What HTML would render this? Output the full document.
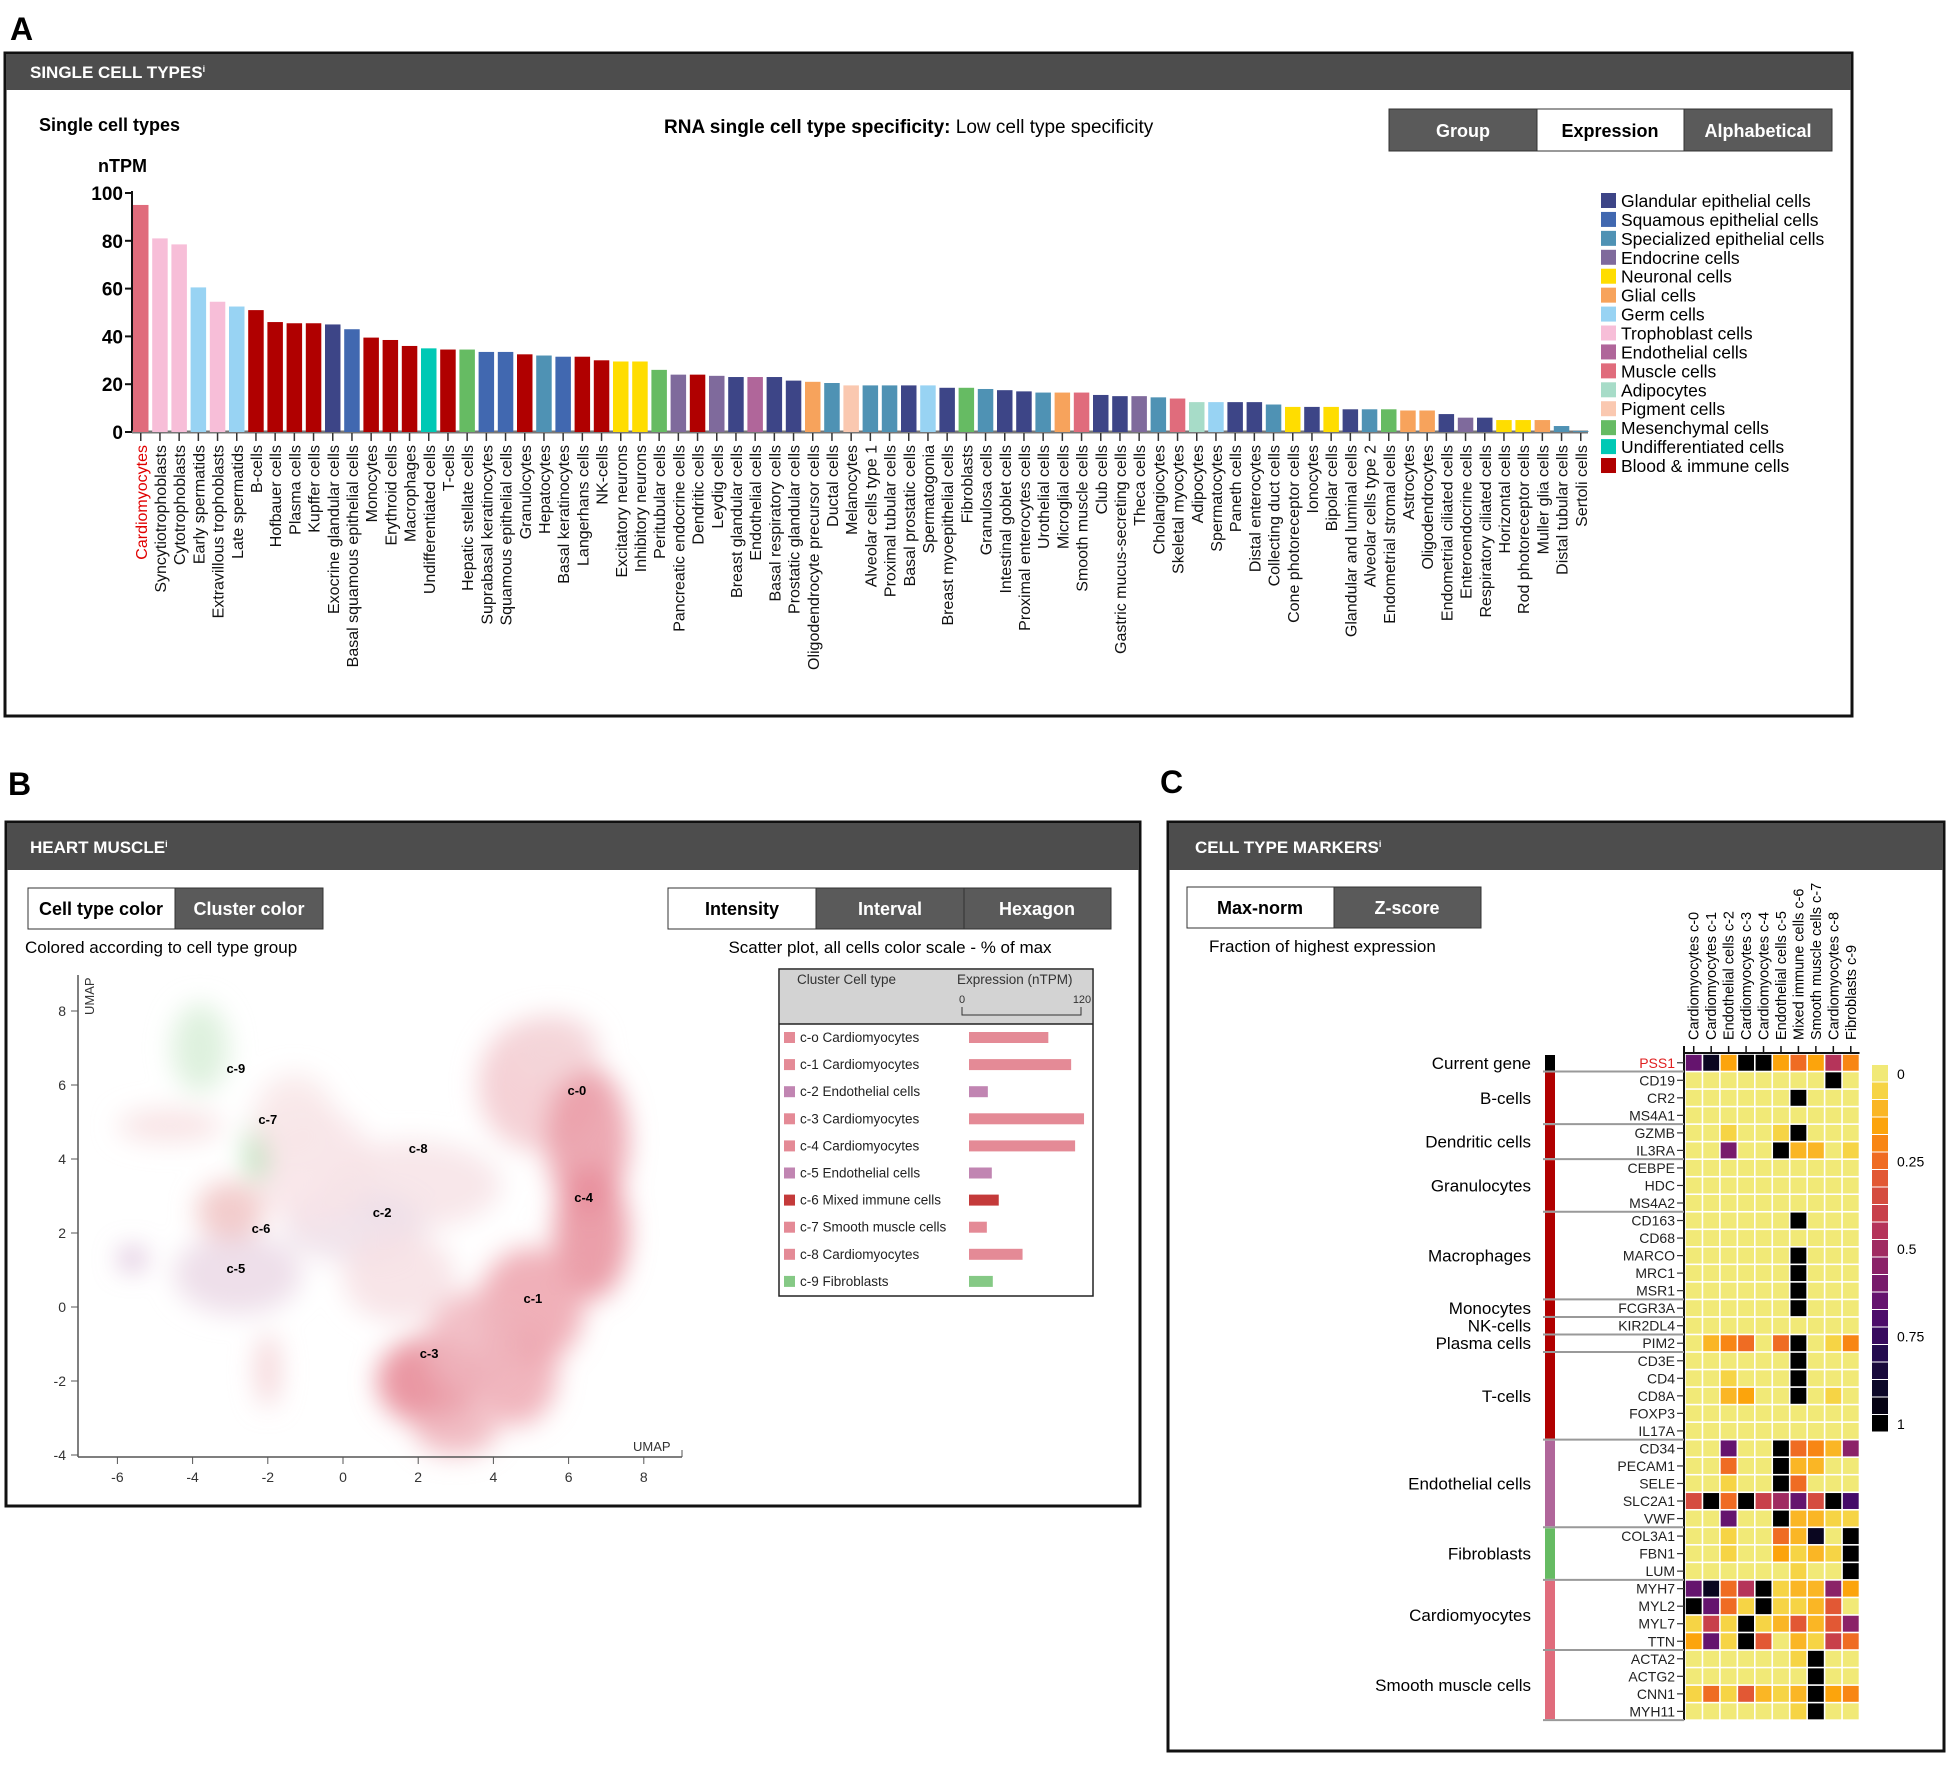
<!DOCTYPE html>
<html><head><meta charset="utf-8">
<style>
html,body{margin:0;padding:0;background:#fff;}
body{width:1950px;height:1766px;overflow:hidden;font-family:"Liberation Sans",Arial,sans-serif;}
svg text{font-family:"Liberation Sans",Arial,sans-serif;}
</style></head>
<body>
<svg id="root" width="1950" height="1766" viewBox="0 0 1950 1766" xmlns="http://www.w3.org/2000/svg">
<defs>
<filter id="blur" x="-50%" y="-50%" width="200%" height="200%"><feGaussianBlur stdDeviation="13"/></filter>
</defs>
<!-- Panel A -->
<text x="10" y="40" font-size="32" font-weight="bold">A</text>
<rect x="5" y="53" width="1847" height="663" fill="#fff" stroke="#111" stroke-width="3"/>
<rect x="6" y="54" width="1845" height="36" fill="#4d4d4d"/>
<text x="30" y="78" font-size="17" font-weight="bold" fill="#fff">SINGLE CELL TYPES<tspan font-size="9" dy="-6">i</tspan></text>
<text x="39" y="131" font-size="18" font-weight="bold">Single cell types</text>
<text x="664" y="133" font-size="19"><tspan font-weight="bold">RNA single cell type specificity:</tspan> Low cell type specificity</text>
<g>
<rect x="1389" y="109" width="148" height="42" fill="#5a5a5a" stroke="#333"/>
<text x="1463" y="137" font-size="18" font-weight="bold" fill="#fff" text-anchor="middle">Group</text>
<rect x="1537" y="109" width="147" height="42" fill="#fff" stroke="#333"/>
<text x="1610" y="137" font-size="18" font-weight="bold" fill="#000" text-anchor="middle">Expression</text>
<rect x="1684" y="109" width="148" height="42" fill="#5a5a5a" stroke="#333"/>
<text x="1758" y="137" font-size="18" font-weight="bold" fill="#fff" text-anchor="middle">Alphabetical</text>
</g>
<text x="98" y="172" font-size="18" font-weight="bold">nTPM</text>
<g id="barchart"></g>
<g id="legend"></g>

<!-- Panel B -->
<text x="8" y="795" font-size="32" font-weight="bold">B</text>
<rect x="6" y="822" width="1134" height="684" fill="#fff" stroke="#111" stroke-width="3"/>
<rect x="7" y="823" width="1132" height="47" fill="#4d4d4d"/>
<text x="30" y="853" font-size="17" font-weight="bold" fill="#fff">HEART MUSCLE<tspan font-size="9" dy="-6">i</tspan></text>
<rect x="28" y="888" width="147" height="41" fill="#fff" stroke="#333"/>
<text x="101" y="915" font-size="18" font-weight="bold" text-anchor="middle">Cell type color</text>
<rect x="175" y="888" width="148" height="41" fill="#5a5a5a" stroke="#333"/>
<text x="249" y="915" font-size="18" font-weight="bold" fill="#fff" text-anchor="middle">Cluster color</text>
<text x="25" y="953" font-size="17">Colored according to cell type group</text>
<rect x="668" y="888" width="148" height="41" fill="#fff" stroke="#333"/>
<text x="742" y="915" font-size="18" font-weight="bold" text-anchor="middle">Intensity</text>
<rect x="816" y="888" width="148" height="41" fill="#5a5a5a" stroke="#333"/>
<text x="890" y="915" font-size="18" font-weight="bold" fill="#fff" text-anchor="middle">Interval</text>
<rect x="964" y="888" width="147" height="41" fill="#5a5a5a" stroke="#333"/>
<text x="1037" y="915" font-size="18" font-weight="bold" fill="#fff" text-anchor="middle">Hexagon</text>
<text x="890" y="953" font-size="17" text-anchor="middle">Scatter plot, all cells color scale - % of max</text>
<g id="umap"></g>
<g id="ctable"></g>

<!-- Panel C -->
<text x="1160" y="793" font-size="32" font-weight="bold">C</text>
<rect x="1168" y="822" width="776" height="929" fill="#fff" stroke="#111" stroke-width="3"/>
<rect x="1169" y="823" width="774" height="47" fill="#4d4d4d"/>
<text x="1195" y="853" font-size="17" font-weight="bold" fill="#fff">CELL TYPE MARKERS<tspan font-size="9" dy="-6">i</tspan></text>
<rect x="1187" y="887" width="147" height="41" fill="#fff" stroke="#333"/>
<text x="1260" y="914" font-size="18" font-weight="bold" text-anchor="middle">Max-norm</text>
<rect x="1334" y="887" width="147" height="41" fill="#5a5a5a" stroke="#333"/>
<text x="1407" y="914" font-size="18" font-weight="bold" fill="#fff" text-anchor="middle">Z-score</text>
<text x="1209" y="952" font-size="17">Fraction of highest expression</text>
<g id="heatmap"></g>
</svg>
<script>
// ---------- Bar chart data ----------
const cellTypes = ["Cardiomyocytes","Syncytiotrophoblasts","Cytotrophoblasts","Early spermatids","Extravillous trophoblasts","Late spermatids","B-cells","Hofbauer cells","Plasma cells","Kupffer cells","Exocrine glandular cells","Basal squamous epithelial cells","Monocytes","Erythroid cells","Macrophages","Undifferentiated cells","T-cells","Hepatic stellate cells","Suprabasal keratinocytes","Squamous epithelial cells","Granulocytes","Hepatocytes","Basal keratinocytes","Langerhans cells","NK-cells","Excitatory neurons","Inhibitory neurons","Peritubular cells","Pancreatic endocrine cells","Dendritic cells","Leydig cells","Breast glandular cells","Endothelial cells","Basal respiratory cells","Prostatic glandular cells","Oligodendrocyte precursor cells","Ductal cells","Melanocytes","Alveolar cells type 1","Proximal tubular cells","Basal prostatic cells","Spermatogonia","Breast myoepithelial cells","Fibroblasts","Granulosa cells","Intestinal goblet cells","Proximal enterocytes cells","Urothelial cells","Microglial cells","Smooth muscle cells","Club cells","Gastric mucus-secreting cells","Theca cells","Cholangiocytes","Skeletal myocytes","Adipocytes","Spermatocytes","Paneth cells","Distal enterocytes","Collecting duct cells","Cone photoreceptor cells","Ionocytes","Bipolar cells","Glandular and luminal cells","Alveolar cells type 2","Endometrial stromal cells","Astrocytes","Oligodendrocytes","Endometrial ciliated cells","Enteroendocrine cells","Respiratory ciliated cells","Horizontal cells","Rod photoreceptor cells","Muller glia cells","Distal tubular cells","Sertoli cells"];
const nTPM = [95,81,78.5,60.5,54.5,52.5,51,46,45.5,45.5,45,43,39.5,38.5,36,35,34.5,34.5,33.5,33.5,32.5,32,31.5,31.5,30,29.5,29.5,26,24,24,23.5,23,23,23,21.5,21,20.5,19.5,19.5,19.5,19.5,19.5,18.5,18.5,18,17.5,17,16.5,16.5,16.5,15.5,15,15,14.5,14,12.5,12.5,12.5,12.5,11.5,10.5,10.5,10.5,9.5,9.5,9.5,9,9,7.5,6,6,5,5,5,2.5,0.4];
const cellGroups = ["mus","tro","tro","grm","tro","grm","bld","bld","bld","bld","gla","squ","bld","bld","bld","und","bld","mes","squ","squ","bld","spe","squ","bld","bld","neu","neu","mes","end","bld","end","gla","endo","gla","gla","gli","spe","pig","spe","spe","gla","grm","gla","mes","spe","gla","gla","spe","gli","mus","gla","gla","end","spe","mus","adi","grm","gla","gla","spe","neu","gla","neu","gla","spe","mes","gli","gli","gla","end","gla","neu","neu","gli","spe","spe"];
const yTicks = [0,20,40,60,80,100];
const legendKeys = ["gla","squ","spe","end","neu","gli","grm","tro","endo","mus","adi","pig","mes","und","bld"];
const legendLabels = ["Glandular epithelial cells","Squamous epithelial cells","Specialized epithelial cells","Endocrine cells","Neuronal cells","Glial cells","Germ cells","Trophoblast cells","Endothelial cells","Muscle cells","Adipocytes","Pigment cells","Mesenchymal cells","Undifferentiated cells","Blood & immune cells"];
const groupColor = {gla:"#3d4587",squ:"#4168b0",spe:"#4f92b4",end:"#7f6a9c",neu:"#ffdd00",gli:"#f7a35c",grm:"#98d3f3",tro:"#f7bed8",endo:"#b0669a",mus:"#e06c7c",adi:"#a7dcc8",pig:"#fac8b0",mes:"#66bb63",und:"#00c9b5",bld:"#b00000"};

const NS="http://www.w3.org/2000/svg";
function mk(tag, attrs, parent, text){const e=document.createElementNS(NS,tag);for(const k in attrs)e.setAttribute(k,attrs[k]);if(text!==undefined)e.textContent=text;parent.appendChild(e);return e;}

const bY0=432, bY100=193, bX0=132, bPitch=19.2, bW=15.5;
const yScale = v => bY0 - (bY0-bY100)*v/100;
const xBand = i => bX0 + 1 + i*bPitch;
const bc=document.getElementById('barchart');
let ax=mk('line',{x1:bX0,y1:bY100-2,x2:bX0,y2:bY0,stroke:'#111','stroke-width':2},bc);


let xa=mk('line',{x1:bX0,y1:bY0,x2:1588,y2:bY0,stroke:'#777','stroke-width':3},bc);


yTicks.forEach(t=>{
  let tk=mk('line',{x1:bX0-7,x2:bX0,y1:yScale(t),y2:yScale(t),stroke:'#111','stroke-width':2},bc);
  
  
  let tl=mk('text',{x:bX0-9,y:yScale(t)+7,'font-size':19,'font-weight':'bold','text-anchor':'end'},bc,String(t));
  
  
});
cellTypes.forEach((name,i)=>{
  const x=xBand(i), v=nTPM[i];
  let r=mk('rect',{x:x,y:yScale(v),width:bW,height:bY0-yScale(v),fill:groupColor[cellGroups[i]]},bc);
  
  
  const cx=x+bW/2;
  let tk=mk('line',{x1:cx,x2:cx,y1:bY0+1,y2:bY0+9,stroke:'#333','stroke-width':1.5},bc);
  
  
  let lb=mk('text',{x:0,y:0,'font-size':16,'text-anchor':'end',fill:i===0?'#e00000':'#111',transform:`translate(${cx+6},${bY0+13}) rotate(-90)`},bc,name);
  
  
});
const lg=document.getElementById('legend');
legendKeys.forEach((k,i)=>{
  const y=201+i*18.93;
  let s=mk('rect',{x:1601,y:y-8,width:15,height:15,fill:groupColor[k]},lg);
  
  
  let t=mk('text',{x:1621,y:y+6,'font-size':17.5},lg,legendLabels[i]);
  
  
});

// ---------- UMAP ----------
const umapXTicks=[-6,-4,-2,0,2,4,6,8];
const umapYTicks=[-4,-2,0,2,4,6,8];
const blobX=[5.2,6.5,6.6,5.0,4.6,2.3,3.4,1.8,0.3,-0.8,-2.8,-3.0,-4.6,-3.8,-2.3,-2.0,-1.3,3.0,-5.6,1.5,5.6];
const blobY=[6.0,4.5,2.0,0.0,-1.8,-2.0,-1.0,3.3,2.2,3.8,0.9,2.6,4.9,7.0,4.2,-1.7,5.0,-3.3,1.3,0.8,7.0];
const blobRX=[1.6,1.1,1.0,1.4,1.1,1.4,1.2,2.4,1.9,1.6,1.7,0.9,1.4,0.75,0.3,0.3,1.1,1.1,0.35,1.5,1.2];
const blobRY=[1.8,2.0,1.8,1.6,1.4,1.2,1.4,1.2,1.0,1.6,1.1,0.8,0.45,1.2,0.8,1.0,1.3,0.7,0.3,1.2,0.9];
const blobCol=["#f3c9cf","#ea9aa6","#e78e9b","#eda2ad","#eea9b3","#e68593","#f0b5bd","#f7e3e6","#eedfe9","#f8e4e7","#ebd9e6","#f0c3c3","#f7dfe2","#d8efd8","#a9dba9","#f2ccd0","#f8e6e8","#efb1ba","#cfa8cc","#f7e1e4","#f5d6db"];
const clusterNames=["c-0","c-1","c-2","c-3","c-4","c-5","c-6","c-7","c-8","c-9"];
const clusterX=[6.22,5.05,1.04,2.29,6.4,-2.85,-2.18,-2.0,2.0,-2.85];
const clusterY=[5.86,0.24,2.57,-1.24,2.97,1.05,2.14,5.08,4.3,6.46];
const ux=v=>343+v*37.6, uy=v=>1307-v*37.0;
const um=document.getElementById('umap');
const bl=mk('g',{filter:'url(#blur)'},um);


blobX.forEach((x,i)=>{
  let e=mk('ellipse',{cx:ux(x),cy:uy(blobY[i]),rx:blobRX[i]*37.6,ry:blobRY[i]*37,fill:blobCol[i],opacity:0.85},bl);
  
  
});
let uxa=mk('line',{x1:78,y1:1457,x2:682,y2:1457,stroke:'#555','stroke-width':1.5},um);


let uya=mk('line',{x1:78,y1:975,x2:78,y2:1457,stroke:'#555','stroke-width':1.5},um);


mk('line',{x1:682,y1:1450,x2:682,y2:1457,stroke:'#555'},um);
umapXTicks.forEach(t=>{
  mk('line',{x1:ux(t),x2:ux(t),y1:1457,y2:1464,stroke:'#555'},um);
  let l=mk('text',{x:ux(t),y:1482,'font-size':14,'text-anchor':'middle',fill:'#333'},um,String(t));
  
  
});
umapYTicks.forEach(t=>{
  mk('line',{x1:71,x2:78,y1:uy(t),y2:uy(t),stroke:'#555'},um);
  let l=mk('text',{x:66,y:uy(t)+5,'font-size':14,'text-anchor':'end',fill:'#333'},um,String(t));
  
  
});
let ut=mk('text',{x:0,y:0,'font-size':13,fill:'#333',transform:'translate(94,1015) rotate(-90)'},um,'UMAP');


let ut2=mk('text',{x:633,y:1451,'font-size':13,fill:'#333'},um,'UMAP');


clusterNames.forEach((n,i)=>{
  let l=mk('text',{x:ux(clusterX[i]),y:uy(clusterY[i])+5,'font-size':13,'font-weight':'bold','text-anchor':'middle'},um,n);
  
  
});

// ---------- Cluster table ----------
const tableLabels=["c-o Cardiomyocytes","c-1 Cardiomyocytes","c-2 Endothelial cells","c-3 Cardiomyocytes","c-4 Cardiomyocytes","c-5 Endothelial cells","c-6 Mixed immune cells","c-7 Smooth muscle cells","c-8 Cardiomyocytes","c-9 Fibroblasts"];
const tableValues=[80,103,19,116,107,23,30,18,54,24];
const tableColors=["#e48a96","#e48a96","#c185b2","#e48a96","#e48a96","#c185b2","#c43a3a","#e48a96","#e48a96","#85c985"];
const ct=document.getElementById('ctable');
mk('rect',{x:779,y:969,width:314,height:327,fill:'#fff',stroke:'#222','stroke-width':1.5},ct);
mk('rect',{x:780,y:970,width:312,height:54,fill:'#d3d3d3'},ct);
mk('line',{x1:779,x2:1093,y1:1024,y2:1024,stroke:'#222','stroke-width':1.5},ct);
mk('text',{x:797,y:984,'font-size':13.5,fill:'#333'},ct,'Cluster Cell type');
mk('text',{x:957,y:984,'font-size':13.5,fill:'#333'},ct,'Expression (nTPM)');
mk('text',{x:962,y:1003,'font-size':11,fill:'#333','text-anchor':'middle'},ct,'0');
mk('text',{x:1082,y:1003,'font-size':11,fill:'#333','text-anchor':'middle'},ct,'120');
mk('path',{d:'M962,1007 V1015 H1081 V1007',stroke:'#333',fill:'none'},ct);
const tx=v=>969+v*(1081-962)/120;
tableLabels.forEach((l,i)=>{
  const y=1037+i*27.1;
  mk('rect',{x:784,y:y-5,width:11,height:11,fill:tableColors[i]},ct);
  let t=mk('text',{x:800,y:y+5,'font-size':13.5,fill:'#222'},ct,l);
  
  
  let b=mk('rect',{x:969,y:y-5,width:tx(tableValues[i])-969,height:11,fill:tableColors[i]},ct);
  
  
});

// ---------- Heatmap ----------
const hmColumns=["Cardiomyocytes c-0","Cardiomyocytes c-1","Endothelial cells c-2","Cardiomyocytes c-3","Cardiomyocytes c-4","Endothelial cells c-5","Mixed immune cells c-6","Smooth muscle cells c-7","Cardiomyocytes c-8","Fibroblasts c-9"];
const hmGenes=["PSS1","CD19","CR2","MS4A1","GZMB","IL3RA","CEBPE","HDC","MS4A2","CD163","CD68","MARCO","MRC1","MSR1","FCGR3A","KIR2DL4","PIM2","CD3E","CD4","CD8A","FOXP3","IL17A","CD34","PECAM1","SELE","SLC2A1","VWF","COL3A1","FBN1","LUM","MYH7","MYL2","MYL7","TTN","ACTA2","ACTG2","CNN1","MYH11"];
const hmValues=[
[0.65,0.92,0.15,1,1,0.15,0.25,0.15,0.45,0.2],
[0,0,0,0,0,0,0,0,1,0],
[0,0,0,0,0,0,1,0,0,0],
[0,0,0,0,0,0,0,0,0,0],
[0,0,0.05,0,0,0.05,1,0,0,0],
[0,0,0.6,0,0,1,0.1,0.1,0,0.05],
[0,0,0,0,0,0,0,0,0,0],
[0,0,0,0,0,0,0,0,0,0],
[0,0,0,0,0,0,0,0,0,0],
[0,0,0,0,0,0,1,0,0,0],
[0,0,0,0,0,0,0,0,0,0],
[0,0,0,0,0,0,1,0,0,0],
[0,0,0,0,0,0,1,0,0,0],
[0,0,0,0,0,0,1,0,0,0],
[0,0,0,0,0,0,1,0,0,0],
[0,0,0,0,0,0,0,0,0,0],
[0,0.1,0.2,0.25,0,0.25,1,0,0.05,0.2],
[0,0,0,0,0,0,1,0,0,0],
[0,0,0.05,0,0,0,1,0,0,0],
[0,0,0.1,0.15,0,0,1,0,0.05,0],
[0,0,0,0,0,0,0,0,0,0],
[0,0,0,0,0,0,0,0,0,0],
[0,0,0.65,0,0,1,0.25,0.2,0.1,0.55],
[0,0,0.25,0,0,1,0.1,0.1,0,0],
[0,0,0.05,0,0,1,0.25,0,0,0],
[0.35,1,0.25,1,0.4,0.5,0.65,0.35,1,0.72],
[0,0,0.65,0,0,1,0.1,0.1,0.05,0.05],
[0,0,0.05,0,0,0.25,0.1,0.92,0,1],
[0,0,0.05,0,0,0.15,0.05,0.1,0.05,1],
[0,0,0,0,0,0,0.05,0,0,1],
[0.65,0.92,0.25,0.45,1,0.05,0.1,0.1,0.55,0.15],
[1,0.65,0.25,0.05,1,0.05,0.05,0.1,0.3,0],
[0.05,0.4,0.05,1,0.05,0.1,0.3,0.1,0.3,0.55],
[0.15,0.65,0.05,1,0.3,0,0.1,0.05,0.4,0.25],
[0,0,0,0,0,0,0.05,1,0,0],
[0,0,0,0,0,0,0,1,0,0],
[0.05,0.25,0.05,0.3,0.1,0.05,0.1,1,0.15,0.2],
[0,0,0,0,0,0,0.05,1,0,0]];
const hmGroupNames=["Current gene","B-cells","Dendritic cells","Granulocytes","Macrophages","Monocytes","NK-cells","Plasma cells","T-cells","Endothelial cells","Fibroblasts","Cardiomyocytes","Smooth muscle cells"];
const hmGroupStart=[0,1,4,6,9,14,15,16,17,22,27,30,34];
const hmGroupEnd=[0,3,5,8,13,14,15,16,21,26,29,33,37];
const hmGroupColor=["#000","#b00000","#b00000","#b00000","#b00000","#b00000","#b00000","#b00000","#b00000","#b0669a","#66bb63","#e06c7c","#e06c7c"];
const colorbarTicks=[0,0.25,0.5,0.75,1];
const stops=[[0,"#f1e977"],[0.05,"#f6d445"],[0.1,"#fab625"],[0.15,"#fca40c"],[0.2,"#f88614"],[0.25,"#ef6c23"],[0.3,"#e25834"],[0.4,"#c8404a"],[0.45,"#b5345a"],[0.55,"#8b2268"],[0.65,"#65146e"],[0.72,"#440a68"],[0.8,"#240b4f"],[0.9,"#0d0828"],[1,"#000000"]];
function hx(c){return [1,3,5].map(i=>parseInt(c.substr(i,2),16));}
function cmap(v){for(let i=1;i<stops.length;i++){if(v<=stops[i][0]+1e-9){const[a,ca]=stops[i-1],[b,cb]=stops[i];const t=(v-a)/(b-a);const A=hx(ca),B=hx(cb);return 'rgb('+A.map((x,k)=>Math.round(x+(B[k]-x)*t)).join(',')+')';}}return '#000';}
const hX0=1685, hCw=17.45, hY0=1054, hRh=17.53;
const colX=j=>hX0+j*hCw, rowY=i=>hY0+i*hRh;
const hm=document.getElementById('heatmap');
mk('rect',{x:hX0,y:hY0,width:hCw*10,height:hRh*38,fill:'#fff'},hm);
hmValues.forEach((row,i)=>row.forEach((v,j)=>{
  let c=mk('rect',{x:colX(j)+0.8,y:rowY(i)+0.8,width:hCw-1.6,height:hRh-1.6,fill:cmap(v)},hm);
  
  
}));
mk('line',{x1:hX0-1,x2:hX0+hCw*10,y1:hY0-1,y2:hY0-1,stroke:'#111','stroke-width':2},hm);
mk('line',{x1:hX0-1,x2:hX0-1,y1:hY0-8,y2:hY0+hRh*38,stroke:'#111','stroke-width':2},hm);
hmColumns.forEach((n,j)=>{
  const cx=colX(j)+hCw/2;
  mk('line',{x1:cx,x2:cx,y1:hY0-8,y2:hY0-1,stroke:'#111','stroke-width':1.5},hm);
  let t=mk('text',{x:0,y:0,'font-size':14.5,transform:`translate(${cx+5},${hY0-14}) rotate(-90)`},hm,n);
  
  
});
hmGenes.forEach((g,i)=>{
  const cy=rowY(i)+hRh/2;
  mk('line',{x1:hX0-8,x2:hX0-1,y1:cy,y2:cy,stroke:'#333','stroke-width':1.2},hm);
  let t=mk('text',{x:hX0-10,y:cy+5,'font-size':14,'text-anchor':'end',fill:i===0?'#e02020':'#222'},hm,g);
  
  
});
hmGroupNames.forEach((n,k)=>{
  const y1=rowY(hmGroupStart[k]), y2=rowY(hmGroupEnd[k]+1);
  let b=mk('rect',{x:1545,y:y1+1,width:10,height:y2-y1-2,fill:hmGroupColor[k]},hm);
  
  
  mk('line',{x1:1543,x2:hX0-1,y1:y2,y2:y2,stroke:'#999','stroke-width':2},hm);
  let t=mk('text',{x:1531,y:(y1+y2)/2+6,'font-size':17,'text-anchor':'end'},hm,n);
  
  
});
for(let s=0;s<=20;s++){
  let r=mk('rect',{x:1872,y:1065+s*17.5,width:16,height:16.5,fill:cmap(s/20)},hm);
  
  
}
colorbarTicks.forEach(t=>{
  let l=mk('text',{x:1897,y:1065+t*20*17.5+14,'font-size':14},hm,String(t));
  
  
});
</script>
</body></html>
